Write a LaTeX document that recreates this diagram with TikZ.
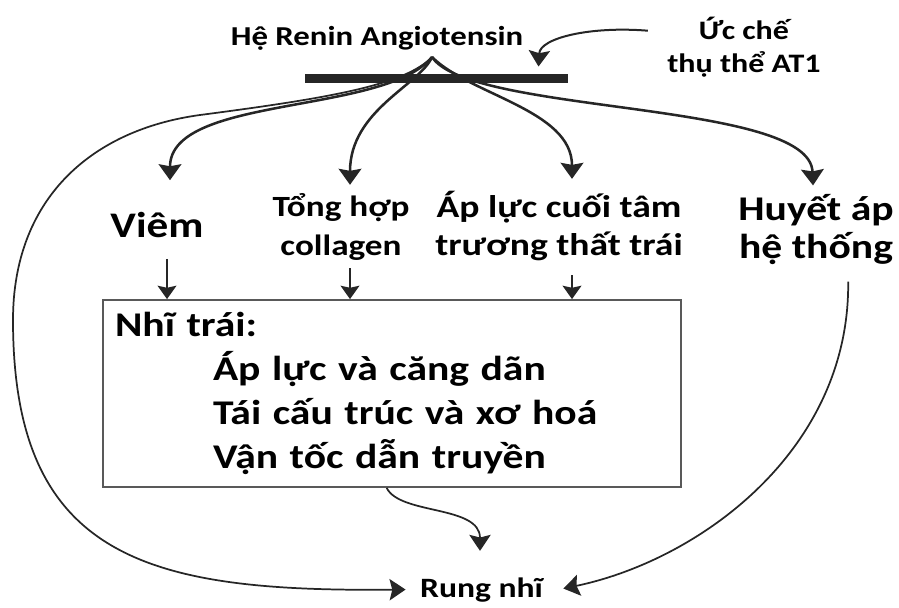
\documentclass[tikz,border=0pt]{standalone}
\usepackage{fontspec}
\setmainfont{Carlito}[FakeStretch=1.2]
\usetikzlibrary{arrows.meta,calc}

\definecolor{ink}{RGB}{38,38,38}
\tikzset{every picture/.style={line width=0.75pt}}
\tikzset{
  lbl/.style n args={2}{inner sep=0.75pt, align=center, font=\bfseries\fontsize{#1}{#2}\selectfont},
  fan/.style={draw=ink, line width=1.9pt, -{Stealth[length=12pt,width=17pt,inset=1.5pt]}},
  down/.style={draw=ink, line width=1.8pt, -{Stealth[length=10pt,width=14pt,inset=1.5pt]}},
  toaf/.style={draw=ink, line width=1.3pt, -{Stealth[length=12pt,width=16pt,inset=2pt]}},
}

\begin{document}
\begin{tikzpicture}[x=0.75pt,y=0.75pt,yscale=-1,xscale=1]
\useasboundingbox (0,0) rectangle (899,607);

% Text Node
\draw (377,45) node (ras) [lbl={20.5}{24}, anchor=base] {Hệ Renin Angiotensin};
% Text Node
\draw (744,72) node (inhib) [lbl={20}{24.3}, anchor=base] {Ức chế\\thụ thể AT1};
%Shape: Rectangle [id:bar]
\draw (436.5,78.5) node (bar) [fill=ink, inner sep=0pt, minimum width=197.25pt, minimum height=6.75pt] {};
\coordinate (hub) at (432,57);

% Text Node
\draw (157,237) node (viem) [lbl={27}{30}, anchor=base] {Viêm};
% Text Node
\draw (341,255) node (coll) [lbl={22}{29}, anchor=base] {Tổng hợp\\collagen};
% Text Node
\draw (559,255) node (lvedp) [lbl={23.5}{28}, anchor=base] {Áp lực cuối tâm\\trương thất trái};
% Text Node
\draw (816,258) node (bp) [lbl={26}{28.5}, anchor=base] {Huyết áp\\hệ thống};

%Shape: Rectangle [id:la]
\draw (392,393.5) node (la) [draw=black!65, line width=1.1pt, inner sep=9pt, text width=415.5pt, minimum height=140.25pt, align=left, font=\bfseries\fontsize{26}{33.2}\selectfont] {Nhĩ trái:\\
\hspace*{73.5pt}Áp lực và căng dãn\\
\hspace*{73.5pt}Tái cấu trúc và xơ hoá\\
\hspace*{73.5pt}Vận tốc dẫn truyền};

% Text Node
\draw (481.5,597) node (rung) [lbl={21}{25}, anchor=base] {Rung nhĩ};

%Curve Lines: inhibitor onto the bar
\draw [toaf, line width=1.5pt] ($(inhib.north west)+(-18,15)$) .. controls (590,26) and (540,38) .. ($(bar.north east)+(-30,-7)$);

%Curve Lines: fan out of the bar
\draw [toaf] (hub) .. controls (405,85) and (330,98) .. (200,115) .. controls (90,130) and (13,200) .. (13,320) .. controls (13,560) and (150,592) .. ($(rung.west)+(-13,0)$);
\draw [fan] (hub) .. controls (385,115) and (170,95) .. ($(viem.north)+(13,-30)$);
\draw [fan] (hub) .. controls (420,85) and (350,110) .. ($(coll.north)+(9,-7)$);
\draw [fan] (hub) .. controls (470,95) and (572,110) .. ($(lvedp.north)+(13,-11)$);
\draw [fan] (hub) .. controls (470,115) and (810,100) .. ($(bp.north)+(-3,-7)$);

%Straight Lines: into the left atrium box
\draw [down, shorten <=15pt] ([xshift=7.5pt]viem.south) -- ([xshift=7.5pt]viem.south |- la.north);
\draw [down, shorten <=5pt] ([xshift=6.75pt]coll.south) -- ([xshift=6.75pt]coll.south |- la.north);
\draw [down, shorten <=10pt] ([xshift=9.75pt]lvedp.south) -- ([xshift=9.75pt]lvedp.south |- la.north);

%Curve Lines: towards Rung nhĩ
\draw [toaf] ([xshift=-4pt]la.south) .. controls (400,515) and (480,505) .. ($(rung.north)+(-1.5,-25)$);
\draw [toaf, shorten <=12pt] ([xshift=24pt]bp.south) .. controls (850,450) and (700,560) .. ($(rung.east)+(19,-1)$);

\end{tikzpicture}
\end{document}
